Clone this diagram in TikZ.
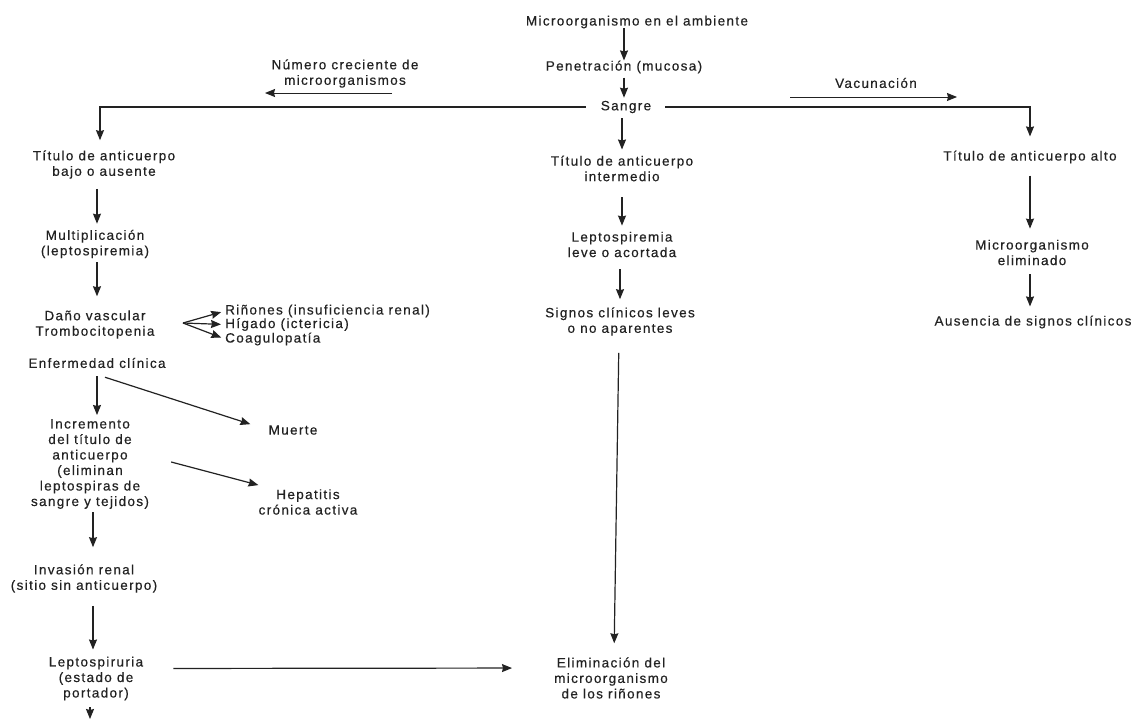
\documentclass[tikz,border=0pt]{standalone}
\usepackage{fontspec}
\setmainfont[LetterSpace=10,FakeBold=0.4]{Liberation Sans}
\usetikzlibrary{arrows.meta}
\definecolor{ink}{HTML}{222222}
\begin{document}
\begin{tikzpicture}[x=1pt,y=-1pt,
  txt/.style={font=\fontsize{13.5}{15.5}\selectfont, text=ink, align=center, inner sep=0pt},
  arr/.style={draw=ink, line width=1.2pt, -{Stealth[length=10pt,width=8pt,inset=1pt]}},
  thin arr/.style={arr, line width=1pt},
]
\useasboundingbox[fill=white] (0,0) rectangle (1141,720);

% central trunk
\node[txt] (env) at (637,22) {Microorganismo en el ambiente};
\node[txt] (pen) at (624,67) {Penetración (mucosa)};
\node[txt] (san) at (626,107) {Sangre};

% side labels on the branches
\node[txt] (num) at (345,73.5) {Número creciente de\\microorganismos};
\coordinate (numR) at (392,93);
\coordinate (numL) at (265,93);
\node[txt] (vac) at (876,83) {Vacunación};
\coordinate (vacL) at (790,97);
\coordinate (vacR) at (957,97);

% left branch: low antibody titre
\node[txt] (tba) at (104,164.5) {Título de anticuerpo\\bajo o ausente};
\node[txt] (mul) at (95,244) {Multiplicación\\(leptospiremia)};
\node[txt] (dan) at (95,324.5) {Daño vascular\\Trombocitopenia};
\node[txt, anchor=west] (rin) at (225,311) {Riñones (insuficiencia renal)};
\node[txt, anchor=west] (hig) at (225,324.5) {Hígado (ictericia)};
\node[txt, anchor=west] (coa) at (225,339) {Coagulopatía};
\coordinate (fork) at (183,323);
\node[txt] (enf) at (97,363) {Enfermedad clínica};
\node[txt] (mue) at (293,430) {Muerte};
\node[txt] (inc) at (90,464) {Incremento\\del título de\\anticuerpo\\(eliminan\\leptospiras de\\sangre y tejidos)};
\node[txt] (hep) at (308,502) {Hepatitis\\crónica activa};
\node[txt] (inv) at (84,578.5) {Invasión renal\\(sitio sin anticuerpo)};
\node[txt] (lep) at (96,678.5) {Leptospiruria\\(estado de\\portador)};
\coordinate (lepout) at (90,719);

% middle branch: intermediate titre
\node[txt] (tim) at (622,168.5) {Título de anticuerpo\\intermedio};
\node[txt] (lev) at (622,244.5) {Leptospiremia\\leve o acortada};
\node[txt] (sig) at (620,321.5) {Signos clínicos leves\\o no aparentes};
\node[txt] (eli) at (611,678) {Eliminación del\\microorganismo\\de los riñones};

% right branch: high titre
\node[txt] (tal) at (1030,157) {Título de anticuerpo alto};
\node[txt] (mel) at (1032,252.5) {Microorganismo\\eliminado};
\node[txt] (aus) at (1033,322) {Ausencia de signos clínicos};

% connectors
\draw[arr] (env.south -| pen) -- (pen.north);
\draw[arr, shorten <=4pt, shorten >=3pt] (pen.south) -- (pen.south |- san.north);
\draw[arr, shorten <=15pt, shorten >=10pt] (san.west) -| ([xshift=-4pt]tba.north);
\draw[arr, shorten <=14pt, shorten >=14pt] (san.east) -| (tal.north);
\draw[arr, shorten <=5pt, shorten >=6pt] (san.south -| tim) -- (tim.north);
\draw[thin arr] (numR) -- (numL);
\draw[thin arr] (vacL) -- (vacR);

\draw[arr, shorten <=10pt, shorten >=6pt] ([xshift=-7pt]tba.south) -- ([xshift=2pt]mul.north);
\draw[arr, shorten <=4pt, shorten >=14pt] ([xshift=2pt]mul.south) -- ([xshift=2pt]dan.north);
\draw[arr, shorten >=4pt] (fork) -- (rin.west);
\draw[arr, shorten >=4pt] (fork) -- (hig.west);
\draw[arr, shorten >=4pt] (fork) -- (coa.west);
\draw[arr, shorten <=8pt, shorten >=4pt] (enf.south) -- (enf.south |- inc.north);
\draw[arr, shorten >=19pt] ([xshift=8pt,yshift=-9pt]enf.south) -- (mue.west);
\draw[arr] ([xshift=22pt,yshift=2pt]inc.east) -- ([yshift=4pt]hep.north west);
\draw[arr, shorten <=3pt, shorten >=17pt] ([xshift=3pt]inc.south) -- ([xshift=9pt]inv.north);
\draw[arr, shorten <=13pt, shorten >=7pt] ([xshift=9pt]inv.south) -- ([xshift=-3pt]lep.north);
\draw[arr, shorten <=7pt] (lep.south -| lepout) -- (lepout);
\draw[arr, shorten <=30pt, shorten >=42pt] ([yshift=10pt]lep.east) -- ([yshift=10pt]eli.west);

\draw[arr, shorten <=16pt, shorten >=6pt] (tim.south) -- (tim.south |- lev.north);
\draw[arr, shorten <=12pt, shorten >=8pt] (lev.south -| sig) -- (sig.north);
\draw[arr, shorten <=17pt, shorten >=14pt] ([xshift=-1pt]sig.south) -- ([xshift=3pt]eli.north);

\draw[arr, shorten <=12pt, shorten >=11pt] (tal.south) -- (tal.south |- mel.north);
\draw[arr, shorten <=9pt, shorten >=9pt] (mel.south -| tal) -- (tal |- aus.north);
\end{tikzpicture}
\end{document}
